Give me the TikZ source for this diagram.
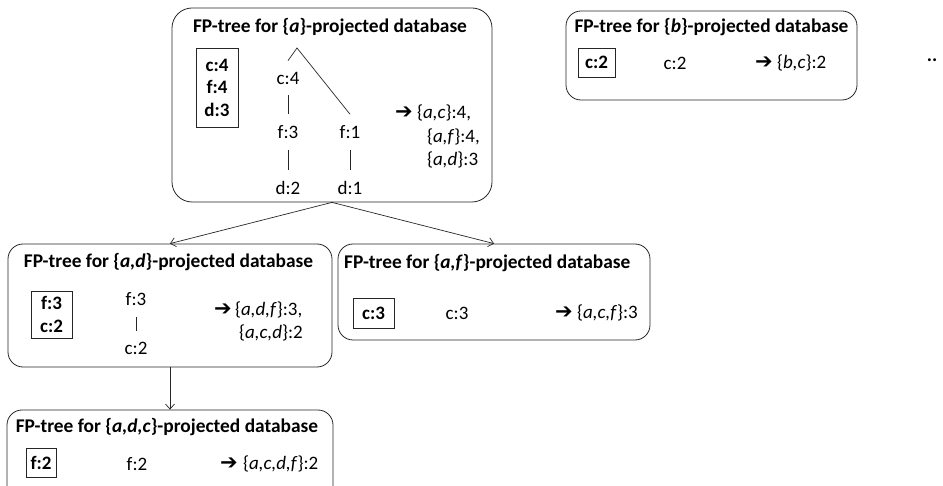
\documentclass[tikz,border=0pt]{standalone}
\usepackage{fontspec}
\setmainfont{Carlito}
\newfontfamily\arrowfont{DejaVu Sans}
\usetikzlibrary{arrows.meta}
\newcommand\ttlfont{\fontsize{19.4}{22}\selectfont\bfseries}
\newcommand\itmfont{\fontsize{19}{22}\selectfont}
\newcommand\hdrfont{\fontsize{19}{22.5}\selectfont\bfseries}
\newcommand\arrowglyph{{\arrowfont\bfseries\fontsize{21}{21}\selectfont ➔}}
\tikzset{
  panel/.style={draw=black!85, line width=0.8pt, rounded corners=15pt, inner sep=0pt},
  hdr/.style={draw=black!85, line width=0.8pt, font=\hdrfont, align=center, inner sep=0pt},
  ttl/.style={font=\ttlfont, inner sep=0pt},
  itm/.style={font=\itmfont, inner sep=0pt},
  tree/.style={font=\itmfont, inner xsep=0pt, inner ysep=11pt},
  conn/.style={draw=black!85, line width=0.7pt},
  arr/.style={conn, -{Straight Barb[length=5pt,width=9pt]}}
}
\begin{document}
\begin{tikzpicture}[x=1pt,y=-1pt]
\path[use as bounding box] (0,0) rectangle (943,486);
\clip (0,0) rectangle (943,486);

% ---------- {a} panel
\node[panel, minimum width=320pt, minimum height=194pt, rounded corners=20pt] (pA) at (332,105) {};
\node[ttl] (tA) at (330,27) {FP-tree for \{\textit{a}\}-projected database};
\node[hdr, minimum width=42pt, minimum height=79pt] (hA) at (217,87.5) {c:4\\f:4\\d:3};
\coordinate (apex) at (297,48);
\node[tree] (ac4) at (288,78) {c:4};
\node[tree] (af3) at (288,132) {f:3};
\node[tree] (af1) at (350,132) {f:1};
\node[tree] (ad2) at (288,188) {d:2};
\node[tree] (ad1) at (350,188) {d:1};
\draw[conn] (ac4.north) -- (apex) -- (af1.north);
\draw[conn] (ac4) -- (af3);
\draw[conn] (af3) -- (ad2);
\draw[conn] (af1) -- (ad1);
\node[itm, anchor=west] (arA) at (395,113) {\arrowglyph};
\node[itm, anchor=west] (rA1) at (417,113) {\{\textit{a,c}\}:4,};
\node[itm, anchor=west] (rA2) at (427,137) {\{\textit{a,f}\}:4,};
\node[itm, anchor=west] (rA3) at (427,160) {\{\textit{a,d}\}:3};

% ---------- {b} panel
\node[panel, minimum width=291pt, minimum height=89pt] (pB) at (711.5,55.5) {};
\node[ttl] (tB) at (711.5,27) {FP-tree for \{\textit{b}\}-projected database};
\node[hdr, minimum width=37pt, minimum height=29pt] (hB) at (596.5,62.5) {c:2};
\node[itm] (bc2) at (675,63) {c:2};
\node[itm, anchor=west] (arB) at (755,63) {\arrowglyph};
\node[itm, anchor=west] (rB1) at (777,63) {\{\textit{b,c}\}:2};
\node[font=\ttlfont, inner sep=0pt] (dots) at (932,60) {..};

% ---------- {a,d} panel
\node[panel, minimum width=324pt, minimum height=123pt] (pAD) at (170,305.5) {};
\node[ttl] (tAD) at (168.5,262) {FP-tree for \{\textit{a,d}\}-projected database};
\node[hdr, minimum width=41pt, minimum height=47pt] (hAD) at (51.5,314.5) {f:3\\c:2};
\node[tree] (df3) at (136,299) {f:3};
\node[tree] (dc2) at (136,348) {c:2};
\draw[conn] (df3) -- (dc2);
\node[itm, anchor=west] (arAD) at (214,310) {\arrowglyph};
\node[itm, anchor=west] (rAD1) at (235,310) {\{\textit{a,d,f}\}:3,};
\node[itm, anchor=west] (rAD2) at (239,333) {\{\textit{a,c,d}\}:2};

% ---------- {a,f} panel
\node[panel, minimum width=312pt, minimum height=96pt] (pAF) at (494,292) {};
\node[ttl, anchor=west] (tAF) at (344,263) {FP-tree for \{\textit{a,f}\}-projected database};
\node[hdr, minimum width=41pt, minimum height=30pt] (hAF) at (373.5,313) {c:3};
\node[itm] (fc3) at (457,313) {c:3};
\node[itm, anchor=west] (arAF) at (555,313) {\arrowglyph};
\node[itm, anchor=west] (rAF1) at (577,313) {\{\textit{a,c,f}\}:3};

% ---------- {a,d,c} panel
\node[panel, minimum width=326pt, minimum height=100pt] (pADC) at (170,460) {};
\node[ttl] (tADC) at (167,427) {FP-tree for \{\textit{a,d,c}\}-projected database};
\node[hdr, minimum width=30pt, minimum height=29pt] (hADC) at (41,463) {f:2};
\node[itm] (cf2) at (137,464) {f:2};
\node[itm, anchor=west] (arADC) at (220,464) {\arrowglyph};
\node[itm, anchor=west] (rADC1) at (243,464) {\{\textit{a,c,d,f}\}:2};

% ---------- connectors
\draw[arr] (pA.south) -- (pAD.north);
\draw[arr] (pA.south) -- (pAF.north);
\draw[arr] (pAD.south) -- (pADC.north);
\end{tikzpicture}
\end{document}
